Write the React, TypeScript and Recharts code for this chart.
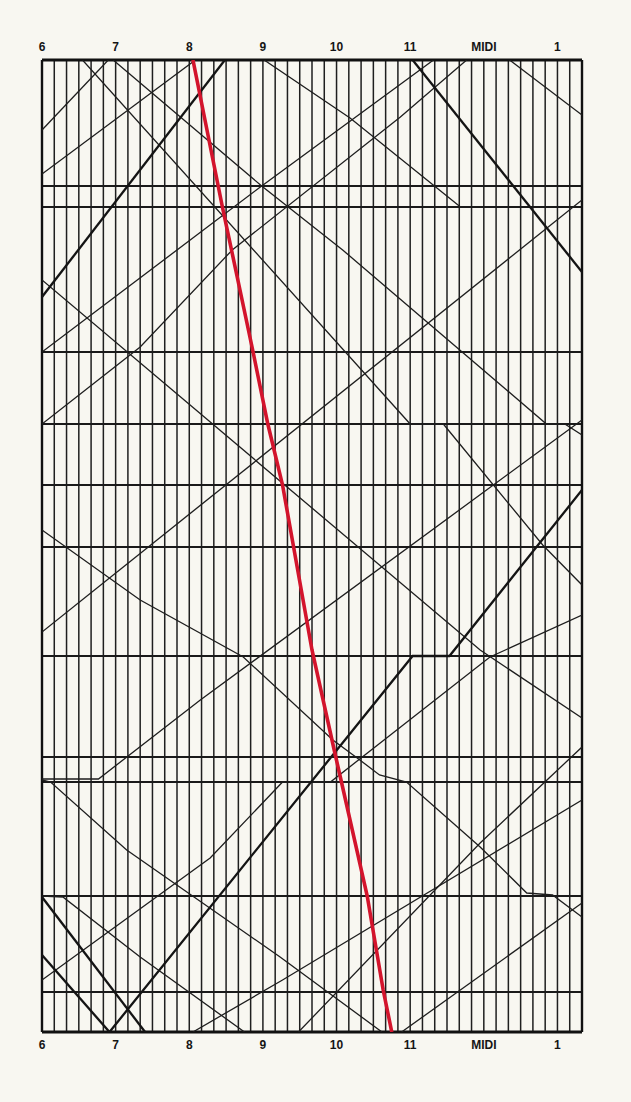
import React from "react";
import { ComposedChart, Line, XAxis, YAxis, ReferenceLine } from "recharts";

// Hours along the time axis (minutes after midnight)
const hourTicks = [360, 420, 480, 540, 600, 660, 720, 780];
const hourLabels = ["6", "7", "8", "9", "10", "11", "MIDI", "1"];

// Ten-minute rulings
const tenMinuteMarks = [
  360, 370, 380, 390, 400, 410, 420, 430, 440, 450, 460, 470, 480, 490, 500,
  510, 520, 530, 540, 550, 560, 570, 580, 590, 600, 610, 620, 630, 640, 650,
  660, 670, 680, 690, 700, 710, 720, 730, 740, 750, 760, 770, 780, 790, 800,
];

// Station positions (km from the top station)
const stationKm = [0, 63, 73.5, 146, 182, 212.5, 243.5, 298, 348.5, 361, 418, 466, 486];

type Pt = [number, number]; // [minutes, km]

// Highlighted express (red)
const redExpress: Pt[] = [
  [483, 0], [507, 73.5], [532, 146], [544, 182], [556, 212.5], [565, 243.5],
  [580, 295], [599, 347.5], [604, 361], [625, 418], [638, 465], [645, 486],
];

// Ordinary trains (thin)
const trainU1: Pt[] = [[360, 35], [414, 0]];
const trainU2: Pt[] = [[360, 57], [485, 0]];
const trainD1: Pt[] = [[393, 0], [660, 182], [687, 182], [768, 242.5], [800, 262.5]];
const trainDa: Pt[] = [[418, 0], [539, 63], [605, 95], [771, 182], [786, 182], [800, 187.5]];
const trainT4: Pt[] = [[360, 146], [539, 63], [679, 0]];
const trainUa: Pt[] = [[360, 182], [440, 143.5], [515, 95], [652, 28.5], [706, 0]];
const trainT2: Pt[] = [[741, 0], [800, 27.5]];
const trainT3: Pt[] = [[541, 0], [611, 29], [701, 73.5]];
const trainDc: Pt[] = [[360, 110], [717, 295], [800, 329]];
const trainUb: Pt[] = [[360, 286], [800, 70]];
const trainUc: Pt[] = [[360, 359.5], [406, 359.5], [489, 320], [800, 180]];
const trainDd: Pt[] = [[360, 360], [367, 361], [429, 395], [554, 448.5], [637, 486]];
const trainDe: Pt[] = [[360, 418], [377, 418.5], [440, 448.5], [525, 486]];
const trainDf: Pt[] = [
  [360, 235], [440, 270], [524, 298.5], [597, 340], [619, 350], [635, 357.5],
  [657, 361], [717, 393.5], [755, 416.5], [776, 417.5], [800, 428.5],
];
const trainUi: Pt[] = [[360, 460], [497, 399], [556, 361], [595, 361], [725, 298.5], [800, 277.5]];
const trainUf: Pt[] = [[569, 486], [717, 391.5], [800, 343.5]];
const trainUh: Pt[] = [[653, 486], [800, 421.5]];
const trainUj: Pt[] = [[483, 486], [556, 460], [800, 370]];

// Heavier lines
const trainU3: Pt[] = [[360, 118.5], [509, 0]];
const trainT1: Pt[] = [[662, 0], [800, 106]];
const trainUT: Pt[] = [[415, 486], [662, 298], [692, 298], [800, 215]];
const trainBT1: Pt[] = [[360, 418.5], [444, 486]];
const trainBT2: Pt[] = [[360, 447.5], [415, 486]];

const thinTrains: Pt[][] = [
  trainU1, trainU2, trainD1, trainDa, trainT4, trainUa, trainT2, trainT3,
  trainDc, trainUb, trainUc, trainDd, trainDe, trainDf, trainUi, trainUf,
  trainUh, trainUj,
];
const thickTrains: Pt[][] = [trainU3, trainT1, trainUT, trainBT1, trainBT2];

const toRows = (pts: Pt[]) => pts.map(([t, d]) => ({ t, d }));

const tickStyle = {
  fontFamily: "Liberation Sans, Arial, sans-serif",
  fontSize: 12,
  fontWeight: 700,
  fill: "#151515",
};

const fmt = (v: number) => {
  const i = hourTicks.indexOf(v);
  return i >= 0 ? hourLabels[i] : "";
};

export default function App() {
  return (
    <div
      style={{
        position: "absolute",
        left: 0,
        top: 0,
        width: 631,
        height: 1102,
        background: "#f8f7f1",
      }}
    >
      <ComposedChart
        width={631}
        height={1102}
        margin={{ top: 40, right: 49, bottom: 50, left: 42 }}
      >
        <XAxis
          dataKey="t"
          type="number"
          domain={[360, 800]}
          ticks={hourTicks}
          tickFormatter={fmt}
          orientation="bottom"
          height={20}
          axisLine={false}
          tickLine={false}
          tickSize={0}
          tickMargin={8}
          tick={tickStyle}
          allowDataOverflow
          interval={0}
        />
        <XAxis
          xAxisId="top"
          dataKey="t"
          type="number"
          domain={[360, 800]}
          ticks={hourTicks}
          tickFormatter={fmt}
          orientation="top"
          height={20}
          axisLine={false}
          tickLine={false}
          tickSize={0}
          tickMargin={9}
          tick={tickStyle}
          allowDataOverflow
          interval={0}
        />
        <YAxis type="number" dataKey="d" domain={[0, 486]} reversed hide allowDataOverflow />

        {tenMinuteMarks.map((m) => (
          <ReferenceLine key={"v" + m} x={m} stroke="#1f1f1f" strokeWidth={1.5} />
        ))}
        {stationKm.map((s) => (
          <ReferenceLine key={"h" + s} y={s} stroke="#1a1a1a" strokeWidth={1.8} />
        ))}
        <ReferenceLine x={360} stroke="#111" strokeWidth={2.4} />
        <ReferenceLine x={800} stroke="#111" strokeWidth={2.4} />
        <ReferenceLine y={0} stroke="#111" strokeWidth={3} />
        <ReferenceLine y={486} stroke="#111" strokeWidth={3} />

        {thinTrains.map((tr, i) => (
          <Line
            key={"thin" + i}
            data={toRows(tr)}
            dataKey="d"
            type="linear"
            stroke="#1e1e1e"
            strokeWidth={1.3}
            dot={false}
            activeDot={false}
            isAnimationActive={false}
          />
        ))}
        {thickTrains.map((tr, i) => (
          <Line
            key={"thick" + i}
            data={toRows(tr)}
            dataKey="d"
            type="linear"
            stroke="#141414"
            strokeWidth={2.3}
            dot={false}
            activeDot={false}
            isAnimationActive={false}
          />
        ))}
        <Line
          data={toRows(redExpress)}
          dataKey="d"
          type="linear"
          stroke="#d3142c"
          strokeWidth={3.6}
          dot={false}
          activeDot={false}
          isAnimationActive={false}
        />
      </ComposedChart>
    </div>
  );
}
